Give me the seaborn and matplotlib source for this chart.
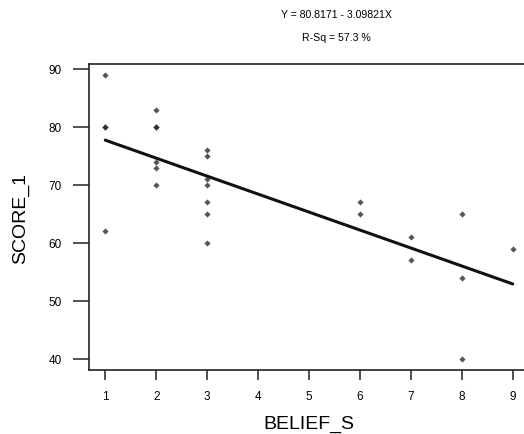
import matplotlib
matplotlib.use("Agg")
import matplotlib.pyplot as plt
import numpy as np
import pandas as pd
import seaborn as sns

# data (25 points, duplicates overplot)
belief_s = [1, 1, 1, 1,
            2, 2, 2, 2, 2, 2,
            3, 3, 3, 3, 3, 3, 3,
            6, 6,
            7, 7,
            8, 8, 8,
            9]
score_1 = [89, 80, 80, 62,
           83, 80, 80, 74, 73, 70,
           76, 75, 71, 70, 67, 65, 60,
           67, 65,
           61, 57,
           65, 54, 40,
           59]
x_ticks = [1, 2, 3, 4, 5, 6, 7, 8, 9]
y_ticks = [40, 50, 60, 70, 80, 90]

df = pd.DataFrame({"BELIEF_S": belief_s, "SCORE_1": score_1})

sns.set_style("ticks")
plt.rcParams["font.family"] = ["Liberation Sans", "DejaVu Sans"]
plt.rcParams["text.color"] = "black"
plt.rcParams["axes.labelcolor"] = "black"

fig = plt.figure(figsize=(5.24, 4.35), dpi=100)
ax = fig.add_axes([89 / 524, 64 / 435, 440 / 524, 306 / 435])

sns.regplot(data=df, x="BELIEF_S", y="SCORE_1", ci=None, ax=ax,
            marker="D",
            scatter_kws={"s": 10, "color": "#2a2a2a", "linewidths": 0},
            line_kws={"color": "#111111", "linewidth": 2.2})

# regression text
slope, intercept = np.polyfit(belief_s, score_1, 1)
r = np.corrcoef(belief_s, score_1)[0, 1]
fig.text(336 / 524, 1 - 15 / 435, "Y = %.4f - %.5fX" % (intercept, -slope),
         ha="center", va="center", fontsize=7.6)
fig.text(336 / 524, 1 - 38 / 435, "R-Sq = %.1f %%" % (r ** 2 * 100),
         ha="center", va="center", fontsize=7.6)

ax.set_xlim(0.68, 9.32)
ax.set_ylim(38.1, 90.85)
ax.set_xticks(x_ticks)
ax.set_yticks(y_ticks)
ax.tick_params(axis="x", length=7.2, width=1.1, pad=7, labelsize=8.5,
               color="#222222", labelcolor="black")
ax.tick_params(axis="y", length=11.5, width=1.1, pad=8, labelsize=8.5,
               color="#222222", labelcolor="black")
for s in ax.spines.values():
    s.set_linewidth(1.2)
    s.set_color("#222222")

ax.set_xlabel("BELIEF_S", fontsize=14, labelpad=9.5)
ax.set_ylabel("SCORE_1", fontsize=14, labelpad=14)

fig.savefig("out.png", dpi=100)
